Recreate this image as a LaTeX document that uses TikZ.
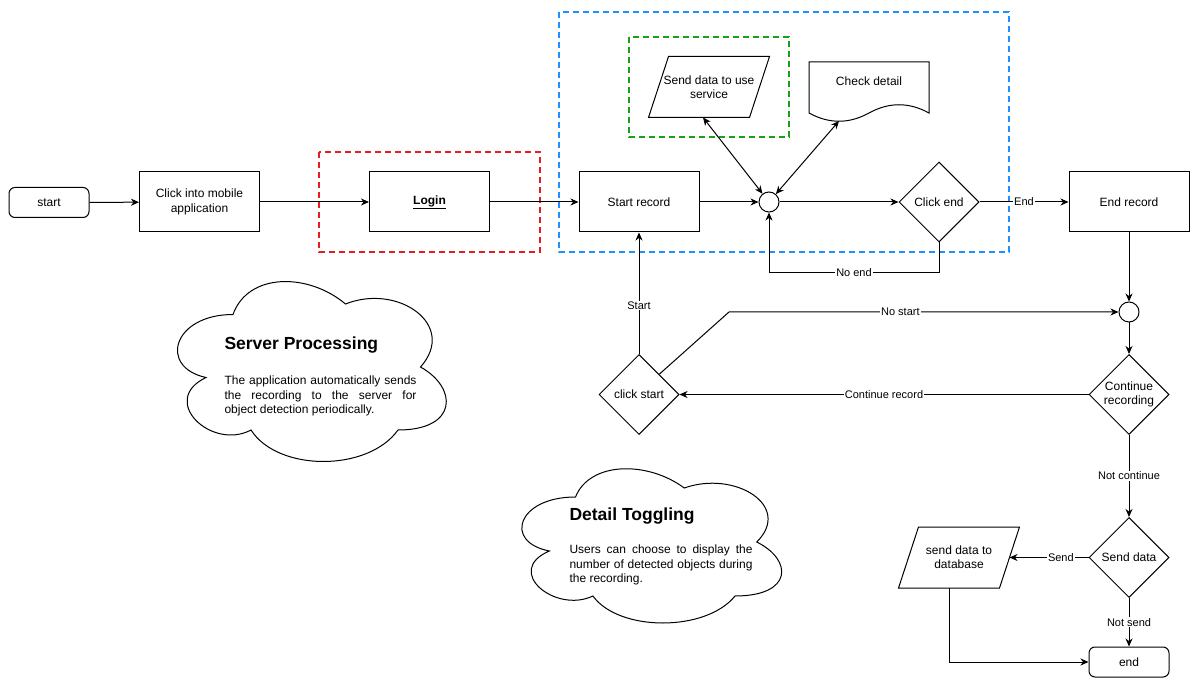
\documentclass[tikz,border=0pt]{standalone}
\usepackage{fontspec}
\setmainfont{Liberation Sans}
\usetikzlibrary{shapes.geometric,arrows.meta}

\definecolor{loginred}{RGB}{230,30,35}
\definecolor{recblue}{RGB}{30,144,255}
\definecolor{sendgreen}{RGB}{25,160,25}

\tikzset{
  proc/.style={draw, minimum width=120pt, minimum height=60pt, align=center, inner sep=2pt, font=\fontsize{12}{14.4}\selectfont},
  term/.style={draw, rounded corners=6pt, minimum width=80pt, minimum height=30pt, font=\fontsize{12}{14.4}\selectfont},
  decide/.style={draw, diamond, aspect=1, minimum width=80pt, minimum height=80pt, inner sep=-2pt, align=center, font=\fontsize{12}{14.4}\selectfont},
  joint/.style={draw, circle, minimum size=20pt, inner sep=0pt},
  iobox/.style={minimum width=100pt, minimum height=60pt, align=center, inner sep=0pt, font=\fontsize{12}{14.4}\selectfont},
  lbl/.style={fill=white, inner sep=1pt, font=\fontsize{11}{13}\selectfont},
  arr/.style={-{Stealth[length=8pt,width=7pt,inset=2.5pt]}},
  dblarr/.style={{Stealth[length=8pt,width=7pt,inset=2.5pt]}-{Stealth[length=8pt,width=7pt,inset=2.5pt]}},
  zone/.style={line width=2pt, dash pattern=on 6pt off 4pt},
  cloudhead/.style={anchor=west, inner sep=0pt, font=\fontsize{17.5}{21}\selectfont\bfseries},
  cloudbody/.style={anchor=north west, inner sep=0pt, align=justify, font=\fontsize{12}{14.4}\selectfont},
  cloudline/.style={insert path={(0.25,0.25) .. controls (0.05,0.25) and (0,0.5) .. (0.16,0.55)
      .. controls (0,0.66) and (0.18,0.9) .. (0.31,0.8) .. controls (0.4,1) and (0.7,1) .. (0.8,0.8)
      .. controls (1,0.8) and (1,0.6) .. (0.875,0.5) .. controls (1,0.3) and (0.8,0.1) .. (0.625,0.2)
      .. controls (0.5,0.05) and (0.3,0.05) .. (0.25,0.25) -- cycle}}
}

\begin{document}
\begin{tikzpicture}[x=1pt, y=-1pt, line width=1pt]
    \useasboundingbox (0,0) rectangle (1194,684);

    % clouds
    \draw[shift={(158,262)}, xscale=300, yscale=210, cloudline];
    \draw[shift={(503,452)}, xscale=290, yscale=180, cloudline];
    \node[cloudhead] (sphead) at (224,345) {Server Processing};
    \node[cloudbody, text width=192pt] (spbody) at (224,375.5) {The application automatically sends\linebreak the recording to the server for\linebreak object detection periodically.};
    \node[cloudhead] (dthead) at (569,516) {Detail Toggling};
    \node[cloudbody, text width=183pt] (dtbody) at (569,544.5) {Users can choose to display the\linebreak number of detected objects during\linebreak the recording.};

    % frames
    \draw[zone, loginred] (319,152) rectangle (540,252);
    \draw[zone, recblue] (559,12) rectangle (1009,252);
    \draw[zone, sendgreen] (629,37) rectangle (789,137);

    % nodes
    \node[term] (start) at (49,202.5) {start};
    \node[proc] (app) at (199.5,202) {Click into mobile\\application};
    \node[proc] (login) at (429.5,202) {\underline{\textbf{Login}}};
    \node[proc] (rec) at (639,202) {Start record};
    \node[joint] (j1) at (769,202) {};
    \node[decide] (cend) at (939,202) {Click end};
    \node[proc] (erec) at (1129,202) {End record};
    \node[iobox] (sdus) at (709,87) {Send data to use\\service};
    \draw ([xshift=10pt]sdus.north west) -- ([xshift=10pt]sdus.north east) -- ([xshift=-10pt]sdus.south east) -- ([xshift=-10pt]sdus.south west) -- cycle;
    \node[iobox] (doc) at (869,81) {Check detail};
    \draw (809,62) -- (929,62) -- (929,113) .. controls (909,102) and (889,102) .. (869,113) .. controls (849,124) and (829,124) .. (809,113) -- cycle;
    \coordinate (docdip) at (839,121);
    \node[joint] (j2) at (1129,312) {};
    \node[decide] (cont) at (1129,394.5) {Continue\\recording};
    \node[decide] (cstart) at (639,394.5) {click start};
    \coordinate (nsbend) at (729,312);
    \node[decide] (sdata) at (1129,557.5) {Send data};
    \node[iobox] (dbase) at (959,557.5) {send data to\\database};
    \draw ([xshift=10pt]dbase.north west) -- ([xshift=10pt]dbase.north east) -- ([xshift=-10pt]dbase.south east) -- ([xshift=-10pt]dbase.south west) -- cycle;
    \node[term] (fin) at (1129,662) {end};

    % edges
    \draw[arr] (start) -- (app);
    \draw[arr] (app) -- (login);
    \draw[arr] (login) -- (rec);
    \draw[arr] (rec) -- (j1);
    \draw[arr] (j1) -- (cend);
    \draw[arr] (cend) -- node[lbl]{End} (erec);
    \draw[arr] (cend.south) -- ++(0,30) -| node[lbl, pos=0.25]{No end} (j1.south);
    \draw[dblarr] ([xshift=-6pt]sdus.south) -- (j1);
    \draw[dblarr] (docdip) -- (j1);
    \draw[arr] (erec) -- (j2);
    \draw[arr] (cstart) -- node[lbl, pos=0.4]{Start} (rec);
    \draw[arr] (cstart.north east) -- (nsbend) -- node[lbl, pos=0.44]{No start} (j2);
    \draw[arr] (j2) -- (cont);
    \draw[arr] (cont) -- node[lbl]{Continue record} (cstart);
    \draw[arr] (cont) -- node[lbl]{Not continue} (sdata);
    \draw[arr] (sdata) -- node[lbl, pos=0.35]{Send} (dbase);
    \draw[arr] (sdata) -- node[lbl]{Not send} (fin);
    \draw[arr] ([xshift=-10pt]dbase.south) |- (fin);
\end{tikzpicture}
\end{document}
